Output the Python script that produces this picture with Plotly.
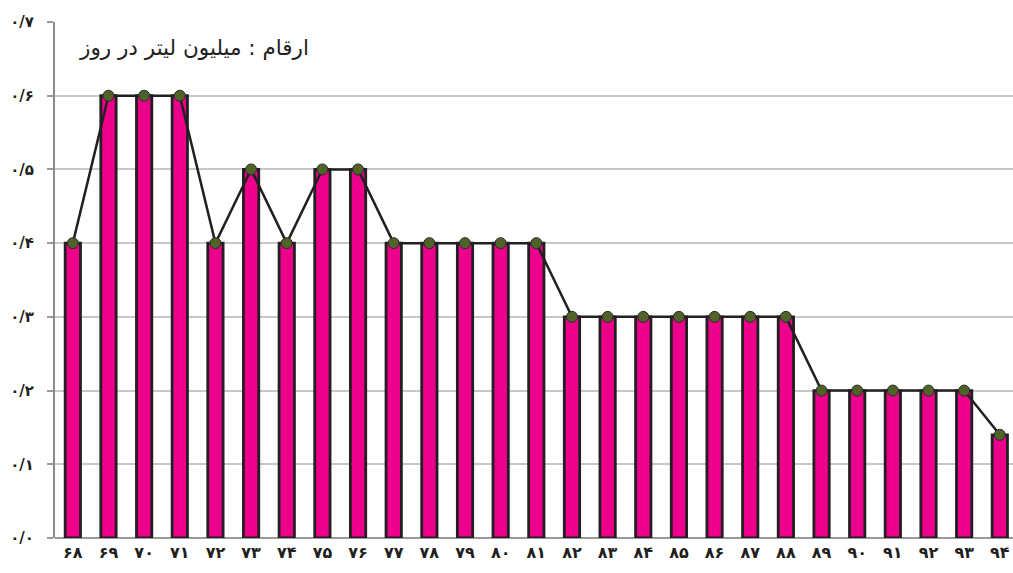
import plotly.graph_objects as go

years = ["۶۸", "۶۹", "۷۰", "۷۱", "۷۲", "۷۳", "۷۴", "۷۵", "۷۶", "۷۷", "۷۸", "۷۹", "۸۰", "۸۱",
         "۸۲", "۸۳", "۸۴", "۸۵", "۸۶", "۸۷", "۸۸", "۸۹", "۹۰", "۹۱", "۹۲", "۹۳", "۹۴"]
values = [0.4, 0.6, 0.6, 0.6, 0.4, 0.5, 0.4, 0.5, 0.5, 0.4, 0.4, 0.4, 0.4, 0.4,
          0.3, 0.3, 0.3, 0.3, 0.3, 0.3, 0.3, 0.2, 0.2, 0.2, 0.2, 0.2, 0.14]
y_ticks = [0, 0.1, 0.2, 0.3, 0.4, 0.5, 0.6, 0.7]
y_ticklabels = ["۰/۰", "۰/۱", "۰/۲", "۰/۳", "۰/۴", "۰/۵", "۰/۶", "۰/۷"]
title_text = "ارقام : میلیون لیتر در روز"

fig = go.Figure()
fig.add_trace(go.Bar(
    x=years, y=values, width=0.43,
    marker=dict(color="#EC008C", line=dict(color="#231F20", width=2.8)),
    hoverinfo="skip",
))
fig.add_trace(go.Scatter(
    x=years, y=values, mode="lines+markers",
    line=dict(color="#231F20", width=2.5),
    marker=dict(size=11, color="#4F6228", line=dict(color="#2a2a2a", width=1)),
))

fig.update_layout(
    width=1013, height=573,
    margin=dict(l=55, r=0, t=22, b=35),
    paper_bgcolor="white", plot_bgcolor="white",
    showlegend=False,
    font=dict(family="DejaVu Sans", color="#231F20"),
    xaxis=dict(
        type="category", range=[-0.5, 26.37],
        showgrid=False, showline=False, ticks="",
        tickfont=dict(size=16, family="DejaVu Sans", color="#231F20", weight="bold"),
        ticklabelstandoff=3,
    ),
    yaxis=dict(
        range=[0, 0.7], tickvals=y_ticks, ticktext=y_ticklabels,
        showgrid=True, gridcolor="#C8C8C8", gridwidth=1.5,
        zeroline=True, zerolinecolor="#9a9a9a", zerolinewidth=1.5,
        showline=True, linecolor="#8a8a8a", linewidth=2,
        ticks="outside", ticklen=6, tickcolor="#9a9a9a", tickwidth=1.5,
        tickfont=dict(size=15, family="DejaVu Sans", color="#231F20", weight="bold"),
        ticklabelstandoff=10,
    ),
    annotations=[dict(
        text=title_text, xref="paper", yref="paper",
        x=0.267, y=0.95, xanchor="right", yanchor="middle",
        showarrow=False, font=dict(size=21.5, family="DejaVu Sans", color="#231F20"),
    )],
)

fig.write_html(
    "out.html",
    config={"displayModeBar": False},
    post_script="document.body.style.margin='0';document.body.style.overflow='hidden';",
)
